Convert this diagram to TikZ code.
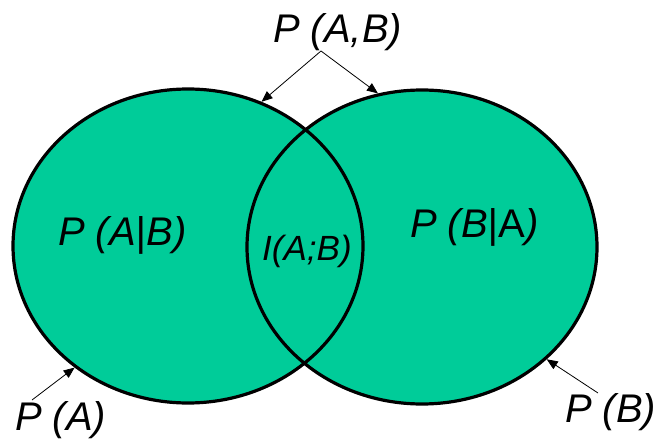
\documentclass[tikz,border=0pt]{standalone}
\usepackage{fontspec}
\setmainfont{Liberation Sans}
\usetikzlibrary{shapes.geometric,arrows.meta}
\definecolor{venngreen}{RGB}{0,204,153}
\begin{document}
\begin{tikzpicture}[x=1pt, y=-1pt,
  set/.style = {ellipse, fill=venngreen, minimum width=350pt, minimum height=314pt, inner sep=0pt, outer sep=1.6pt},
  rim/.style = {line width=3.2pt},
  lab/.style = {anchor=base west, inner sep=0pt, font=\fontsize{40}{40}\selectfont\itshape},
  pointer/.style = {-{Triangle[length=11pt,width=9pt]}, line width=0.8pt}]
  \useasboundingbox (0,0) rectangle (664,441);

  \node[set] (A) at (188,246) {};
  \node[set] (B) at (422,247) {};
  \draw[rim] (A.center) ellipse [x radius=175pt, y radius=157pt];
  \draw[rim] (B.center) ellipse [x radius=175pt, y radius=157pt];

  \node[lab] (pab) at (273,43) {P (A,B)};
  \node[lab] (pagb) at (58,245) {P (A|B)};
  \node[lab, font=\fontsize{35}{35}\selectfont\itshape] (iab) at (262,260) {I(A;B)};
  \node[lab] (pbga) at (410,237) {P (B|\textup{A})};
  \node[lab] (pa) at (15,430) {P (A)};
  \node[lab] (pb) at (565,422) {P (B)};

  \coordinate (fork) at (321,51);
  \coordinate (patail) at (32,400);
  \coordinate (pbtail) at (598,393);

  \draw[pointer] (fork) -- (A.63);
  \draw[pointer] (fork) -- (B.106);
  \draw[pointer] (patail) -- (A.227);
  \draw[pointer] (pbtail) -- (B.318);
\end{tikzpicture}
\end{document}
